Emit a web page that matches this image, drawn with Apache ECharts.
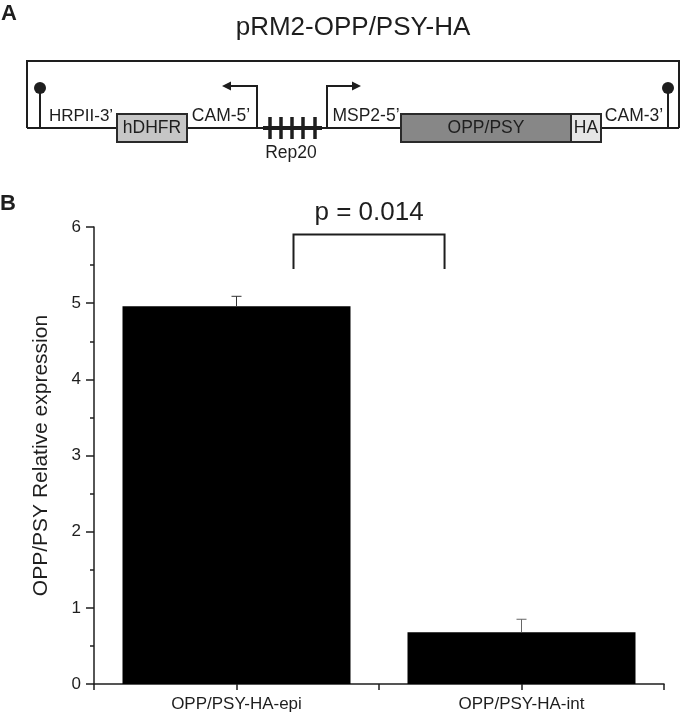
<!DOCTYPE html>
<html>
<head>
<meta charset="utf-8">
<script src="https://cdn.jsdelivr.net/npm/echarts@6/dist/echarts.min.js"></script>
<style>
  html, body { margin: 0; padding: 0; background: #fff; }
  #chart { width: 680px; height: 716px; }
</style>
</head>
<body>
<div id="chart"></div>
<script>
// panel B data
var categories = ['OPP/PSY-HA-epi', 'OPP/PSY-HA-int'];
var expression = [4.96, 0.68];
var errorUp = [0.13, 0.17];
var yTicks = [0, 1, 2, 3, 4, 5, 6];
// significance bracket: x span (in category units), y foot and top
var bracketX = [0.2, 0.73];
var bracketY = [5.45, 5.9];
var pLabel = 'p = 0.014';

var FONT = '"Liberation Sans", Arial, sans-serif';
var INK = '#1e1e1e';

var chart = echarts.init(document.getElementById('chart'), null, { renderer: 'canvas' });

// ---- panel A: construct diagram (plain drawing, not data) ----
function ln(x1, y1, x2, y2, w) {
    return { type: 'line', shape: { x1: x1, y1: y1, x2: x2, y2: y2 }, style: { stroke: INK, lineWidth: w || 2 } };
}
function txt(s, x, y, size, opts) {
    opts = opts || {};
    return {
        type: 'text', x: x, y: y,
        style: {
            text: s, fill: opts.fill || INK, fontSize: size, fontFamily: FONT,
            fontWeight: opts.bold ? 'bold' : 'normal',
            align: opts.align || 'center', verticalAlign: opts.va || 'middle'
        }
    };
}
function box(x, w, fill) {
    return { type: 'rect', shape: { x: x, y: 114, width: w, height: 28 }, style: { fill: fill, stroke: '#2a2a2a', lineWidth: 2 } };
}

var diagram = [];
diagram.push({ type: 'polyline', shape: { points: [[27, 128], [27, 61], [679, 61], [679, 128]] }, style: { stroke: INK, lineWidth: 2, fill: null } });
diagram.push(ln(27, 128, 679, 128));
// terminators
diagram.push(ln(40, 128, 40, 89));
diagram.push({ type: 'circle', shape: { cx: 40, cy: 88, r: 6 }, style: { fill: INK } });
diagram.push(ln(668, 128, 668, 89));
diagram.push({ type: 'circle', shape: { cx: 668, cy: 88, r: 6 }, style: { fill: INK } });
// promoter arrows
diagram.push({ type: 'polyline', shape: { points: [[257, 128], [257, 86], [230, 86]] }, style: { stroke: INK, lineWidth: 2, fill: null } });
diagram.push({ type: 'polygon', shape: { points: [[222, 86], [231, 81.5], [231, 90.5]] }, style: { fill: INK } });
diagram.push({ type: 'polyline', shape: { points: [[327, 128], [327, 86], [353, 86]] }, style: { stroke: INK, lineWidth: 2, fill: null } });
diagram.push({ type: 'polygon', shape: { points: [[361, 86], [352, 81.5], [352, 90.5]] }, style: { fill: INK } });
// Rep20 repeats
diagram.push(ln(263, 128, 322, 128, 4));
[270, 281, 292, 303, 315].forEach(function (x) { diagram.push(ln(x, 117, x, 139, 3.5)); });
// genes
diagram.push(box(117, 70, '#c6c6c6'));
diagram.push(box(401, 170, '#878787'));
diagram.push(box(571, 30, '#e6e6e6'));
diagram.push(txt('hDHFR', 152, 128, 17.5));
diagram.push(txt('OPP/PSY', 486, 128, 17.5));
diagram.push(txt('HA', 586, 128, 17.5));
// labels
diagram.push(txt('HRPII-3\u2019', 81, 116, 17));
diagram.push(txt('CAM-5\u2019', 221, 116, 17.5));
diagram.push(txt('MSP2-5\u2019', 366, 116, 17.5));
diagram.push(txt('CAM-3\u2019', 634, 116, 17.5));
diagram.push(txt('Rep20', 291, 153, 17.5));
// titles
diagram.push(txt('pRM2-OPP/PSY-HA', 353, 28, 26));
diagram.push(txt('A', 1, 14, 22, { bold: true, align: 'left' }));
diagram.push(txt('B', 0, 204, 22, { bold: true, align: 'left' }));

// ---- panel B ----
var barData = expression.map(function (v, i) { return [i, v]; });
var errData = expression.map(function (v, i) { return [i, v, v + errorUp[i]]; });

chart.setOption({
    animation: false,
    backgroundColor: '#fff',
    graphic: { elements: diagram },
    grid: { left: 94, right: 16, top: 227, bottom: 32, containLabel: false },
    xAxis: {
        type: 'value', min: -0.5, max: 1.5, interval: 0.5,
        splitLine: { show: false },
        axisLine: { show: true, onZero: false, lineStyle: { color: INK, width: 1.5 } },
        axisTick: { show: true, length: 6, lineStyle: { color: INK, width: 1.5 } },
        axisLabel: {
            margin: 12, fontSize: 17, fontFamily: FONT, color: INK,
            showMinLabel: true, showMaxLabel: true,
            formatter: function (v) {
                var i = Math.round(v);
                return (Math.abs(v - i) < 1e-6 && categories[i]) ? categories[i] : '';
            }
        }
    },
    yAxis: {
        type: 'value', min: yTicks[0], max: yTicks[yTicks.length - 1], interval: 1,
        name: 'OPP/PSY Relative expression', nameLocation: 'middle', nameGap: 42,
        nameTextStyle: { fontSize: 21, fontFamily: FONT, color: INK },
        splitLine: { show: false },
        axisLine: { show: true, onZero: false, lineStyle: { color: INK, width: 1.5 } },
        axisTick: { show: true, length: 8, lineStyle: { color: INK, width: 1.5 } },
        minorTick: { show: true, splitNumber: 2, length: 4, lineStyle: { color: INK, width: 1.5 } },
        axisLabel: { margin: 13, fontSize: 17, fontFamily: FONT, color: INK }
    },
    series: [
        {
            type: 'bar', data: barData, barWidth: 228,
            itemStyle: { color: '#000' }
        },
        {
            type: 'custom', data: errData, clip: false, z: 5,
            renderItem: function (params, api) {
                var base = api.coord([api.value(0), api.value(1)]);
                var top = api.coord([api.value(0), api.value(2)]);
                var c = params.dataIndex === 0 ? '#333' : '#666';
                return {
                    type: 'group', children: [
                        { type: 'line', shape: { x1: base[0], y1: base[1], x2: top[0], y2: top[1] }, style: { stroke: c, lineWidth: 1 } },
                        { type: 'line', shape: { x1: top[0] - 5, y1: top[1], x2: top[0] + 5, y2: top[1] }, style: { stroke: c, lineWidth: 1 } }
                    ]
                };
            }
        },
        {
            type: 'custom', data: [[bracketX[0], bracketX[1], bracketY[0], bracketY[1]]], clip: false, z: 5,
            renderItem: function (params, api) {
                var a = api.coord([api.value(0), api.value(2)]);
                var b = api.coord([api.value(0), api.value(3)]);
                var c = api.coord([api.value(1), api.value(3)]);
                var d = api.coord([api.value(1), api.value(2)]);
                return {
                    type: 'group', children: [
                        { type: 'polyline', shape: { points: [a, b, c, d] }, style: { stroke: INK, lineWidth: 2, fill: null } },
                        { type: 'text', x: (b[0] + c[0]) / 2, y: b[1] - 22,
                          style: { text: pLabel, fontSize: 26, fontFamily: FONT, fill: INK, align: 'center', verticalAlign: 'middle' } }
                    ]
                };
            }
        }
    ]
});
</script>
</body>
</html>
